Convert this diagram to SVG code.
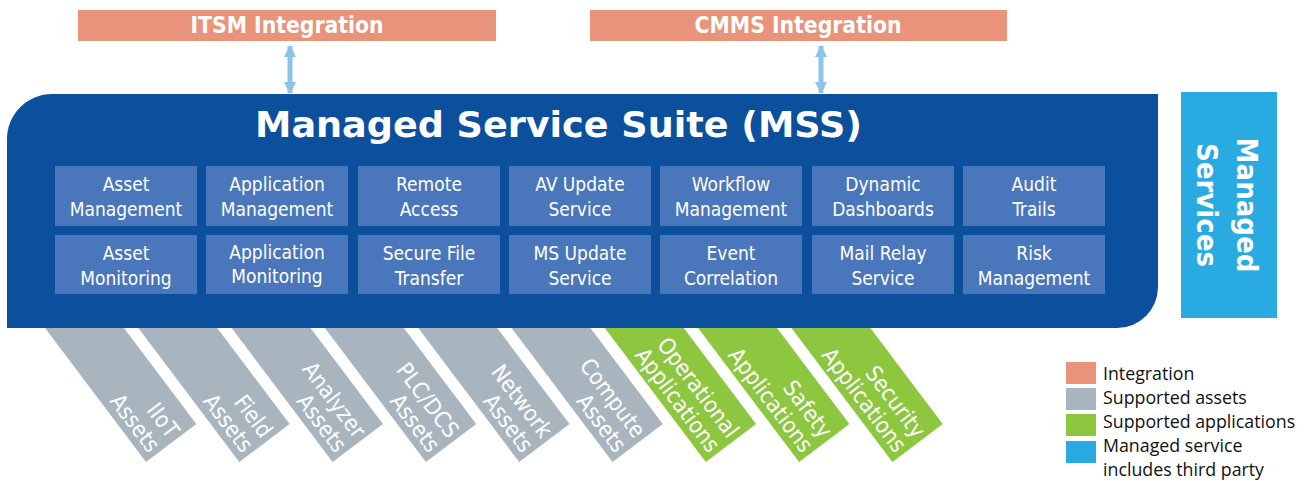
<svg xmlns="http://www.w3.org/2000/svg" width="1309" height="481" viewBox="0 0 1309 481">
<style>
.integ{fill:#e9937a}
.itext{fill:#fff;font-family:"DejaVu Sans Condensed","DejaVu Sans",sans-serif;font-weight:bold;font-size:22.7px;text-anchor:middle}
.mss{fill:#0c4f9c}
.title{fill:#fff;font-family:"DejaVu Sans",sans-serif;font-weight:bold;font-size:36px}
.svc{fill:#4a76bb}
.stext{fill:#fff;font-family:"DejaVu Sans Condensed","DejaVu Sans",sans-serif;font-size:19px;text-anchor:middle}
.ms{fill:#29abe2}
.mstext{fill:#fff;font-family:"DejaVu Sans Condensed","DejaVu Sans",sans-serif;font-weight:bold;font-size:29px;text-anchor:middle}
.asset{fill:#a8b5bf}
.app{fill:#8dc63f}
.btext{fill:#fff;font-family:"DejaVu Sans Condensed","DejaVu Sans",sans-serif;font-size:22.5px;text-anchor:end}
.conn{stroke:#8dc3ea;stroke-width:5;fill:none}
.legtext{fill:#111;font-family:"Open Sans",sans-serif;font-size:17.8px}
</style>
<defs>
<marker id="ah" markerUnits="userSpaceOnUse" markerWidth="12" markerHeight="12" viewBox="0 0 12 12" refX="11" refY="6" orient="auto-start-reverse">
<path d="M0,0 L12,6 L0,12 z" fill="#8dc3ea"/>
</marker>
<polygon id="bar" points="-7.5,-10 71.4,-10 151.3,96.1 101,134"/>
</defs>

<g id="itsm">
<rect class="integ" x="78" y="10" width="418" height="31"/>
<text class="itext" x="287" y="33">ITSM Integration</text>
</g>
<g id="cmms">
<rect class="integ" x="590" y="10" width="417" height="31"/>
<text class="itext" x="798" y="33">CMMS Integration</text>
</g>

<g id="bars">
<g id="iiot" transform="translate(45,328)"><use href="#bar" class="asset"/><text class="btext" transform="rotate(53)" x="163"><tspan x="163" y="-31">IIoT</tspan><tspan x="163" y="-7">Assets</tspan></text></g>
<g id="field" transform="translate(138.3,328)"><use href="#bar" class="asset"/><text class="btext" transform="rotate(53)" x="163"><tspan x="163" y="-31">Field</tspan><tspan x="163" y="-7">Assets</tspan></text></g>
<g id="analyzer" transform="translate(231.6,328)"><use href="#bar" class="asset"/><text class="btext" transform="rotate(53)" x="163"><tspan x="163" y="-31">Analyzer</tspan><tspan x="163" y="-7">Assets</tspan></text></g>
<g id="plcdcs" transform="translate(324.9,328)"><use href="#bar" class="asset"/><text class="btext" transform="rotate(53)" x="163"><tspan x="163" y="-31">PLC/DCS</tspan><tspan x="163" y="-7">Assets</tspan></text></g>
<g id="network" transform="translate(418.2,328)"><use href="#bar" class="asset"/><text class="btext" transform="rotate(53)" x="163"><tspan x="163" y="-31">Network</tspan><tspan x="163" y="-7">Assets</tspan></text></g>
<g id="compute" transform="translate(511.5,328)"><use href="#bar" class="asset"/><text class="btext" transform="rotate(53)" x="163"><tspan x="163" y="-31">Compute</tspan><tspan x="163" y="-7">Assets</tspan></text></g>
<g id="operational" transform="translate(604.8,328)"><use href="#bar" class="app"/><text class="btext" transform="rotate(53)" x="163"><tspan x="163" y="-31">Operational</tspan><tspan x="163" y="-7">Applications</tspan></text></g>
<g id="safety" transform="translate(698.1,328)"><use href="#bar" class="app"/><text class="btext" transform="rotate(53)" x="163"><tspan x="163" y="-31">Safety</tspan><tspan x="163" y="-7">Applications</tspan></text></g>
<g id="security" transform="translate(791.4,328)"><use href="#bar" class="app"/><text class="btext" transform="rotate(53)" x="163"><tspan x="163" y="-31">Security</tspan><tspan x="163" y="-7">Applications</tspan></text></g>
</g>

<g id="mss">
<path class="mss" d="M52,94 H1158 V287 A41,41 0 0 1 1117,328 H7 V139 A45,45 0 0 1 52,94 Z"/>
<text class="title" x="255" y="137" textLength="607" lengthAdjust="spacingAndGlyphs">Managed Service Suite (MSS)</text>
</g>

<g id="services">
<g id="asset-management"><rect class="svc" x="55" y="166" width="142" height="60"/><text class="stext"><tspan x="126" y="191">Asset</tspan><tspan x="126" y="216">Management</tspan></text></g>
<g id="application-management"><rect class="svc" x="206" y="166" width="142" height="60"/><text class="stext"><tspan x="277" y="191">Application</tspan><tspan x="277" y="216">Management</tspan></text></g>
<g id="remote-access"><rect class="svc" x="358" y="166" width="142" height="60"/><text class="stext"><tspan x="429" y="191">Remote</tspan><tspan x="429" y="216">Access</tspan></text></g>
<g id="av-update"><rect class="svc" x="509" y="166" width="142" height="60"/><text class="stext"><tspan x="580" y="191">AV Update</tspan><tspan x="580" y="216">Service</tspan></text></g>
<g id="workflow"><rect class="svc" x="660" y="166" width="142" height="60"/><text class="stext"><tspan x="731" y="191">Workflow</tspan><tspan x="731" y="216">Management</tspan></text></g>
<g id="dashboards"><rect class="svc" x="812" y="166" width="142" height="60"/><text class="stext"><tspan x="883" y="191">Dynamic</tspan><tspan x="883" y="216">Dashboards</tspan></text></g>
<g id="audit"><rect class="svc" x="963" y="166" width="142" height="60"/><text class="stext"><tspan x="1034" y="191">Audit</tspan><tspan x="1034" y="216">Trails</tspan></text></g>
<g id="asset-monitoring"><rect class="svc" x="55" y="235" width="142" height="59"/><text class="stext"><tspan x="126" y="260">Asset</tspan><tspan x="126" y="285">Monitoring</tspan></text></g>
<g id="application-monitoring"><rect class="svc" x="206" y="235" width="142" height="59"/><text class="stext"><tspan x="277" y="259">Application</tspan><tspan x="277" y="283">Monitoring</tspan></text></g>
<g id="secure-file"><rect class="svc" x="358" y="235" width="142" height="59"/><text class="stext"><tspan x="429" y="260">Secure File</tspan><tspan x="429" y="285">Transfer</tspan></text></g>
<g id="ms-update"><rect class="svc" x="509" y="235" width="142" height="59"/><text class="stext"><tspan x="580" y="260">MS Update</tspan><tspan x="580" y="285">Service</tspan></text></g>
<g id="event"><rect class="svc" x="660" y="235" width="142" height="59"/><text class="stext"><tspan x="731" y="260">Event</tspan><tspan x="731" y="285">Correlation</tspan></text></g>
<g id="mail-relay"><rect class="svc" x="812" y="235" width="142" height="59"/><text class="stext"><tspan x="883" y="260">Mail Relay</tspan><tspan x="883" y="285">Service</tspan></text></g>
<g id="risk"><rect class="svc" x="963" y="235" width="142" height="59"/><text class="stext"><tspan x="1034" y="260">Risk</tspan><tspan x="1034" y="285">Management</tspan></text></g>
</g>

<g id="managed-services">
<rect class="ms" x="1181" y="92" width="96" height="226"/>
<text class="mstext" transform="translate(1229,205) rotate(90)"><tspan x="0" y="-8">Managed</tspan><tspan x="0" y="32">Services</tspan></text>
</g>

<g id="connectors">
<line class="conn" x1="290" y1="46" x2="290" y2="93" marker-start="url(#ah)" marker-end="url(#ah)"/>
<line class="conn" x1="821" y1="46" x2="821" y2="93" marker-start="url(#ah)" marker-end="url(#ah)"/>
</g>

<g id="legend">
<rect class="integ" x="1066" y="362" width="30" height="22"/>
<rect class="asset" x="1066" y="388" width="30" height="22"/>
<rect class="app" x="1066" y="414" width="30" height="22"/>
<rect class="ms" x="1066" y="441" width="30" height="22"/>
<text class="legtext" x="1103" y="380">Integration</text>
<text class="legtext" x="1103" y="404">Supported assets</text>
<text class="legtext" x="1103" y="428">Supported applications</text>
<text class="legtext" x="1103" y="452">Managed service</text>
<text class="legtext" x="1103" y="476">includes third party</text>
</g>
</svg>
